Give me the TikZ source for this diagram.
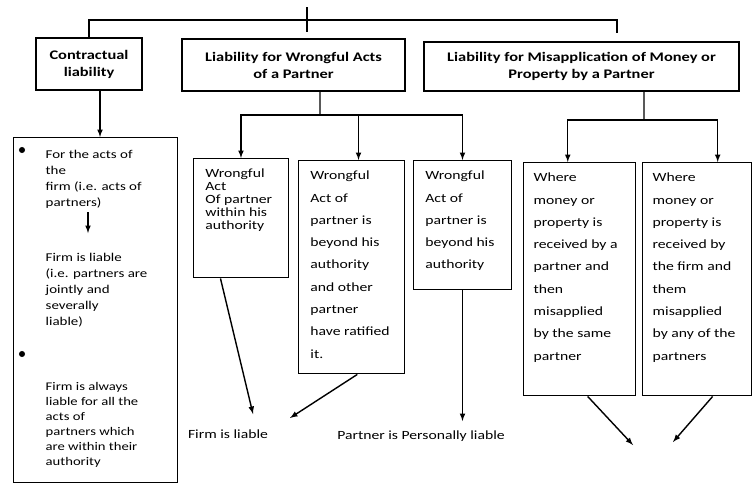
\documentclass[tikz,border=0pt]{standalone}
\usepackage{fontspec}
\setmainfont{Carlito}[FakeStretch=1.25]
\usetikzlibrary{arrows,calc,positioning}

\newcommand{\cellbox}[3]{\parbox[t][#2][t]{#1}{\raggedright\vspace*{9pt}#3}}

\begin{document}
\begin{tikzpicture}[x=0.3mm,y=-0.3mm,>=latex,line width=1.2pt]
\tikzstyle{head}=[draw,inner sep=0pt,align=center,font=\bfseries\fontsize{11.2}{14.5}\selectfont]
\tikzstyle{sub}=[draw,anchor=north west,inner xsep=10pt,inner ysep=0pt,font=\fontsize{10.7}{19}\selectfont]
\tikzstyle{txt}=[inner sep=0pt,anchor=north west,align=left]
\tikzstyle{lbl}=[inner sep=0pt,font=\fontsize{10.7}{13}\selectfont]

\useasboundingbox (0,0) rectangle (754,486);

% top row
\node[head,minimum width=31.8mm,minimum height=15.6mm] (H1) at (89,64) {Contractual\\liability};
\node[head,minimum width=66.9mm,minimum height=15.6mm] (H2) at (293.5,65) {Liability for Wrongful Acts\\of a Partner};
\node[head,minimum width=94.5mm,minimum height=14.7mm] (H3) at (581.5,66.5) {Liability for Misapplication of Money or\\Property by a Partner};

\coordinate (R1) at (307,7);
\coordinate (R2) at (307,32);
\coordinate (T3) at (617,20);
\draw (R1) -- (R2);
\draw (H1.north) |- (T3) -- ++(0,13);

% contractual liability
\node[draw,anchor=north west,minimum width=49.2mm,minimum height=103.5mm] (L) at (13,137) {};
\draw[->] ([xshift=9.4pt]H1.south) -- ([xshift=9.4pt]H1.south |- L.north);

\fill (22,150) circle (2.6pt);
\fill (22,354) circle (2.6pt);
\node[txt,font=\fontsize{10.2}{13.7}\selectfont] (LA) at (45,149) {For the acts of\\the\\firm (i.e. acts of\\partners)};
\node[txt,font=\fontsize{10.2}{13.7}\selectfont] (LB) at (45,252) {Firm is liable\\(i.e. partners are\\jointly and\\severally\\liable)};
\node[txt,font=\fontsize{10}{12.8}\selectfont] (LC) at (45,382) {Firm is always\\liable for all the\\acts of\\partners which\\are within their\\authority};
\coordinate (A1) at (88,212);
\coordinate (A2) at (88,233);
\draw[->] (A1) -- (A2);

% wrongful acts
\node[sub,font=\fontsize{10.7}{11.1}\selectfont] (W1) at (193,158) {\cellbox{60.7pt}{101.6pt}{Wrongful\\Act\\Of partner\\within his\\authority}};
\node[sub] (W2) at (298,160) {\cellbox{70.1pt}{181.8pt}{Wrongful\\Act of\\partner is\\beyond his\\authority\\and other\\partner\\have ratified\\it.}};
\node[sub] (W3) at (413,160) {\cellbox{63.3pt}{110.1pt}{Wrongful\\Act of\\partner is\\beyond his\\authority}};

\coordinate (J2) at (320,115);
\draw ([xshift=22.6pt]H2.south) -- (J2);
\draw[->] (J2) -| (W1.north);
\draw[->] (J2) -| (W3.north);
\draw[->] ([xshift=6pt]W2.north |- J2) -- ([xshift=6pt]W2.north);

% misapplication
\node[sub,inner xsep=8.5pt] (M1) at (523,162) {\cellbox{78.6pt}{198.9pt}{Where\\money or\\property is\\received by a\\partner and\\then\\misapplied\\by the same\\partner}};
\node[sub,inner xsep=8.5pt] (M2) at (642,162) {\cellbox{76pt}{198.9pt}{Where\\money or\\property is\\received by\\the firm and\\them\\misapplied\\by any of the\\partners}};

\coordinate (J3) at (644,120);
\draw ([xshift=53.3pt]H3.south) -- (J3);
\draw[->] (J3) -| ([xshift=-10.2pt]M1.north);
\draw[->] (J3) -| ([xshift=17.5pt]M2.north);

% results
\node[lbl] (F1) at (228,434) {Firm is liable};
\node[lbl] (P1) at (421,436) {Partner is Personally liable};
\coordinate (f1) at (253,414);
\coordinate (f2) at (290,418);
\coordinate (p1) at (460,421);
\coordinate (m1) at (633,445);
\coordinate (m2) at (673,442);
\draw[->] ([xshift=-17.5pt]W1.south) -- (f1);
\draw[->] ([xshift=5pt]W2.south) -- (f2);
\draw[->] (W3.south) -- (W3.south |- p1);
\draw[->] ([xshift=6.8pt]M1.south) -- (m1);
\draw[->] ([xshift=13.2pt]M2.south) -- (m2);
\end{tikzpicture}
\end{document}
